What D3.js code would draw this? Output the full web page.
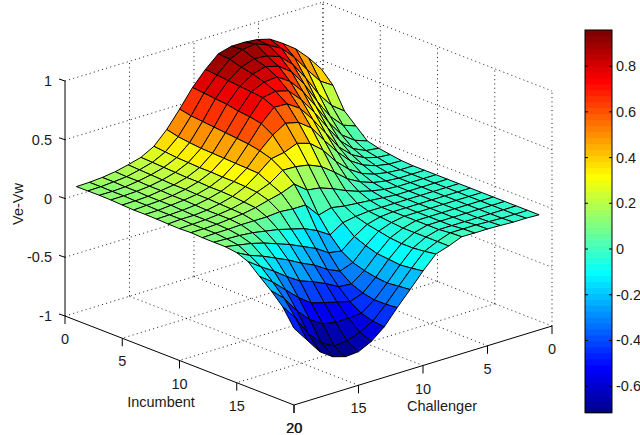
<!DOCTYPE html>
<html>
<head>
<meta charset="utf-8">
<script src="https://cdn.jsdelivr.net/npm/d3@7"></script>
<style>
body { margin: 0; background: #fff; }
text { font-family: "Liberation Sans", Arial, sans-serif; font-size: 14.5px; fill: #1a1a1a; }
</style>
</head>
<body>
<div id="chart"></div>
<script>
// one row per challenger value (1..20), one column per incumbent value (1..20)
const incumbent = d3.range(1, 21);
const challenger = d3.range(1, 21);
const veVw = [
  [.50,.40,.22,.13,.04,.016,0,-.014,-.02,-.02,-.02,-.02,-.02,-.02,-.02,-.02,-.02,-.02,-.02,-.02],
  [.63,.47,.30,.17,.08,.03,.01,-.01,-.02,-.02,-.02,-.02,-.02,-.02,-.02,-.02,-.02,-.02,-.02,-.015],
  [.74,.60,.43,.28,.16,.08,.04,.01,-.01,-.02,-.02,-.02,-.02,-.02,-.02,-.02,-.02,-.02,-.02,-.015],
  [.82,.74,.60,.44,.30,.18,.10,.05,.01,-.01,-.02,-.02,-.02,-.02,-.02,-.02,-.02,-.02,-.015,-.01],
  [.89,.85,.75,.62,.47,.33,.20,.12,.05,.01,-.01,-.02,-.02,-.02,-.02,-.02,-.02,-.02,-.01,-.006],
  [.92,.91,.85,.76,.63,.49,.35,.23,.12,.05,.01,-.01,-.02,-.02,-.02,-.02,-.02,-.02,-.01,-.007],
  [.93,.955,.89,.84,.75,.63,.50,.36,.22,.11,.04,0,-.02,-.02,-.02,-.02,-.02,-.02,-.01,-.005],
  [.93,.94,.90,.87,.82,.74,.63,.50,.35,.20,.08,.01,-.02,-.03,-.04,-.05,-.05,-.05,-.05,-.05],
  [.90,.89,.86,.84,.81,.77,.70,.58,.44,.28,.13,.02,-.03,-.06,-.08,-.10,-.11,-.11,-.10,-.085],
  [.80,.79,.78,.77,.76,.75,.705,.607,.474,.327,.17,.04,-.05,-.13,-.17,-.20,-.21,-.22,-.21,-.196],
  [.68,.67,.66,.65,.63,.62,.60,.54,.43,.347,.186,.01,-.12,-.22,-.28,-.31,-.33,-.34,-.33,-.32],
  [.53,.51,.50,.49,.48,.47,.46,.44,.41,.35,.27,.13,-.05,-.20,-.32,-.39,-.43,-.45,-.45,-.44],
  [.39,.366,.353,.343,.339,.334,.329,.325,.32,.273,.226,.13,0,-.13,-.27,-.38,-.47,-.53,-.56,-.57],
  [.28,.27,.26,.255,.25,.25,.245,.245,.24,.23,.20,.14,.03,-.08,-.20,-.32,-.44,-.54,-.62,-.66],
  [.22,.215,.21,.205,.20,.20,.195,.195,.19,.18,.17,.13,.06,-.03,-.15,-.27,-.41,-.54,-.66,-.714],
  [.19,.185,.18,.175,.17,.17,.165,.165,.16,.155,.15,.13,.08,.01,-.09,-.23,-.38,-.52,-.67,-.723],
  [.165,.16,.16,.155,.155,.15,.15,.145,.14,.14,.14,.13,.10,.05,-.04,-.16,-.30,-.45,-.61,-.69],
  [.15,.15,.145,.145,.14,.14,.14,.135,.13,.13,.13,.125,.11,.08,.01,-.08,-.20,-.34,-.50,-.614],
  [.142,.142,.14,.14,.135,.135,.13,.13,.13,.125,.125,.125,.115,.10,.05,-.01,-.10,-.20,-.33,-.48],
  [.139,.14,.141,.139,.134,.129,.13,.128,.124,.122,.126,.121,.12,.12,.107,.068,-.02,-.103,-.20,-.347]
];
const xyTicks = [0, 5, 10, 15, 20];
const zTicks = [-1, -0.5, 0, 0.5, 1];
const zTickLabels = ["-1", "-0.5", "0", "0.5", "1"];
const barTicks = [-0.6, -0.4, -0.2, 0, 0.2, 0.4, 0.6, 0.8];
const barTickLabels = ["-0.6", "-0.4", "-0.2", "0", "0.2", "0.4", "0.6", "0.8"];
const climit = [-0.716, 0.958];

const width = 640, height = 435;
const svg = d3.select("#chart").append("svg")
  .attr("width", width).attr("height", height)
  .style("display", "block");

// oblique view of the box: each axis is a pair of screen scales
const ix = d3.scaleLinear().domain([0, 20]).range([0, 229]);
const iy = d3.scaleLinear().domain([0, 20]).range([0, 89]);
const cx = d3.scaleLinear().domain([0, 20]).range([0, -258]);
const cy = d3.scaleLinear().domain([0, 20]).range([0, 79]);
const zy = d3.scaleLinear().domain([-1, 1]).range([0, -235]);
function project(i, c, z) {
  return [323 + ix(i) + cx(c), 237 + iy(i) + cy(c) + zy(z)];
}

// jet colormap, 64 levels like matlab
const ramp = function(t) { return Math.round(255 * Math.max(0, Math.min(1, t))); };
const jet = d3.range(64).map(function(k) {
  const v = (k + 1) / 64 * 4;
  return "rgb(" + ramp(Math.min(v - 1.5, 4.5 - v)) + "," + ramp(Math.min(v - 0.5, 3.5 - v)) + "," + ramp(Math.min(v + 0.5, 2.5 - v)) + ")";
});
const colorOf = d3.scaleQuantize().domain(climit).range(jet);

// grid on the floor and back walls
const gridLines = [];
xyTicks.forEach(function(t) {
  if (t > 0 && t < 20) {
    gridLines.push([[t, 0, -1], [t, 20, -1]]);
    gridLines.push([[0, t, -1], [20, t, -1]]);
  }
  if (t < 20) {
    gridLines.push([[t, 0, -1], [t, 0, 1]]);
    gridLines.push([[0, t, -1], [0, t, 1]]);
  }
});
gridLines.push([[20, 0, -1], [20, 0, 1]]);
zTicks.forEach(function(t) {
  gridLines.push([[0, 20, t], [0, 0, t]]);
  gridLines.push([[0, 0, t], [20, 0, t]]);
});
const line3 = d3.line().x(function(p) { return project(p[0], p[1], p[2])[0]; })
  .y(function(p) { return project(p[0], p[1], p[2])[1]; });

svg.append("g").selectAll("path").data(gridLines).enter().append("path")
  .attr("d", line3)
  .attr("fill", "none")
  .attr("stroke", "#000")
  .attr("stroke-width", 0.9)
  .attr("stroke-dasharray", "1 3.3");

// surface, back to front
const faces = [];
for (let a = 0; a < incumbent.length - 1; a++) {
  for (let b = 0; b < challenger.length - 1; b++) {
    faces.push({
      pts: [
        [incumbent[a], challenger[b], veVw[b][a]],
        [incumbent[a + 1], challenger[b], veVw[b][a + 1]],
        [incumbent[a + 1], challenger[b + 1], veVw[b + 1][a + 1]],
        [incumbent[a], challenger[b + 1], veVw[b + 1][a]]
      ],
      value: veVw[b][a + 1]
    });
  }
}
svg.append("g").selectAll("path").data(faces).enter().append("path")
  .attr("d", function(d) { return line3(d.pts) + "Z"; })
  .attr("fill", function(d) { return colorOf(d.value); })
  .attr("stroke", "#000")
  .attr("stroke-width", 1)
  .attr("stroke-linejoin", "round");

// axis lines
const axisLines = [
  [[0, 20, -1], [0, 20, 1]],
  [[0, 20, -1], [20, 20, -1]],
  [[20, 20, -1], [20, 0, -1]]
];
svg.append("g").selectAll("path").data(axisLines).enter().append("path")
  .attr("d", line3)
  .attr("fill", "none")
  .attr("stroke", "#000")
  .attr("stroke-width", 1);

// z ticks
zTicks.forEach(function(t, n) {
  const p = project(0, 20, t);
  svg.append("line")
    .attr("x1", p[0]).attr("y1", p[1])
    .attr("x2", p[0] - 6).attr("y2", p[1] - 2)
    .attr("stroke", "#000");
  svg.append("text")
    .attr("x", 52).attr("y", p[1] + 5)
    .attr("text-anchor", "end")
    .text(zTickLabels[n]);
});

// incumbent ticks along the front left edge
xyTicks.forEach(function(t) {
  const p = project(t, 20, -1);
  svg.append("line")
    .attr("x1", p[0]).attr("y1", p[1])
    .attr("x2", p[0]).attr("y2", p[1] + 8)
    .attr("stroke", "#000");
  svg.append("text")
    .attr("x", p[0]).attr("y", p[1] + 28)
    .attr("text-anchor", "middle")
    .text(t);
});
// challenger ticks along the front right edge
xyTicks.forEach(function(t) {
  const p = project(20, t, -1);
  svg.append("line")
    .attr("x1", p[0]).attr("y1", p[1])
    .attr("x2", p[0]).attr("y2", p[1] + 8)
    .attr("stroke", "#000");
  svg.append("text")
    .attr("x", t == 20 ? p[0] + 0.4 : p[0]).attr("y", p[1] + 28)
    .attr("text-anchor", "middle")
    .text(t);
});

svg.append("text").attr("x", 161).attr("y", 406.5).attr("text-anchor", "middle").text("Incumbent");
svg.append("text").attr("x", 442).attr("y", 410.5).attr("text-anchor", "middle").text("Challenger");
svg.append("text")
  .attr("transform", "translate(23,204)rotate(-90)")
  .attr("text-anchor", "middle")
  .text("Ve-Vw");

// colorbar
const barY = d3.scaleLinear().domain(climit).range([412.7, 30]);
const barX0 = 585, barX1 = 612;
const band = (climit[1] - climit[0]) / 64;
const bar = svg.append("g");
bar.selectAll("rect").data(jet).enter().append("rect")
  .attr("x", barX0)
  .attr("y", function(d, k) { return barY(climit[0] + (k + 1) * band); })
  .attr("width", barX1 - barX0)
  .attr("height", function(d, k) { return barY(climit[0] + k * band) - barY(climit[0] + (k + 1) * band) + 0.5; })
  .attr("fill", function(d) { return d; });
bar.append("rect")
  .attr("x", barX0).attr("y", 30)
  .attr("width", barX1 - barX0).attr("height", 382.7)
  .attr("fill", "none").attr("stroke", "#000");
barTicks.forEach(function(t, n) {
  const y = barY(t);
  bar.append("line").attr("x1", barX0).attr("x2", barX0 + 3).attr("y1", y).attr("y2", y).attr("stroke", "#000");
  bar.append("line").attr("x1", barX1 - 3).attr("x2", barX1).attr("y1", y).attr("y2", y).attr("stroke", "#000");
  bar.append("text").attr("x", 616).attr("y", y + 5).text(barTickLabels[n]);
});
</script>
</body>
</html>
